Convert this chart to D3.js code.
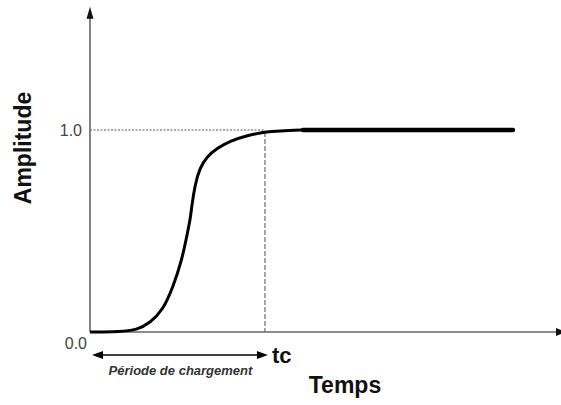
<!DOCTYPE html>
<html>
<head>
<meta charset="utf-8">
<script src="https://cdn.jsdelivr.net/npm/d3@7"></script>
<style>
  html, body { margin: 0; padding: 0; background: #fff; }
  svg { display: block; }
</style>
</head>
<body>
<svg id="chart" width="561" height="405"></svg>
<script>
// Charging curve: amplitude rises along an S-shape, then holds at 1.0
const times      = [0, 0.69, 1.07, 1.37, 1.67, 1.90, 2.10, 2.21, 2.29, 2.33, 2.40, 2.51, 2.67, 2.90, 3.20, 3.58, 3.96, 4.11, 4.57, 4.87];
const amplitudes = [0, 0.002, 0.01, 0.045, 0.109, 0.224, 0.356, 0.472, 0.554, 0.629, 0.728, 0.812, 0.868, 0.909, 0.946, 0.972, 0.989, 0.992, 0.998, 1.0];
const plateauTimes = [4.87, 9.67];
const plateauLevel = 1.0;
const tc = 4.0;
const tMax = 10.7;
const aMax = 1.61;
const yTickLabels = ["0.0", "1.0"];

const svg = d3.select("#chart");
const x = d3.scaleLinear().domain([0, tMax]).range([90, 558]);
const y = d3.scaleLinear().domain([0, 1]).range([332, 130]);

const axisColor = "#666";

// Dotted reference lines at amplitude 1.0 and at tc
svg.append("line")
  .attr("x1", x(0)).attr("x2", x(tc))
  .attr("y1", y(1)).attr("y2", y(1))
  .attr("stroke", "#555").attr("stroke-width", 1)
  .attr("stroke-dasharray", "2,1.5");
svg.append("line")
  .attr("x1", x(tc)).attr("x2", x(tc))
  .attr("y1", y(0.99)).attr("y2", y(0))
  .attr("stroke", "#777").attr("stroke-width", 1.3)
  .attr("stroke-dasharray", "5,2");

// Axes
svg.append("line")
  .attr("x1", x(0)).attr("x2", x(0))
  .attr("y1", y(0)).attr("y2", y(aMax) + 10)
  .attr("stroke", axisColor).attr("stroke-width", 1.6);
svg.append("path")
  .attr("d", `M${x(0)},${y(aMax)} L${x(0) - 3.5},${y(aMax) + 12} L${x(0) + 3.5},${y(aMax) + 12} Z`)
  .attr("fill", "#111");
svg.append("line")
  .attr("x1", x(0)).attr("x2", x(tMax) - 2)
  .attr("y1", y(0)).attr("y2", y(0))
  .attr("stroke", axisColor).attr("stroke-width", 1.6);
svg.append("path")
  .attr("d", `M${x(tMax) + 8},${y(0)} L${x(tMax) - 2},${y(0) - 4} L${x(tMax) - 2},${y(0) + 4} Z`)
  .attr("fill", "#111");

// Curve (B-spline through the sampled points for a smooth S-shape)
const line = d3.line()
  .x((d, i) => x(times[i]))
  .y((d, i) => y(amplitudes[i]))
  .curve(d3.curveBasis);
svg.append("path")
  .attr("d", line(times))
  .attr("fill", "none")
  .attr("stroke", "#000")
  .attr("stroke-width", 3);

svg.append("line")
  .attr("x1", x(plateauTimes[0])).attr("x2", x(plateauTimes[1]))
  .attr("y1", y(plateauLevel)).attr("y2", y(plateauLevel))
  .attr("stroke", "#000").attr("stroke-width", 4.5)
  .attr("stroke-linecap", "round");

// Tick labels
svg.append("text")
  .attr("x", x(0) - 8).attr("y", y(1) + 6)
  .attr("text-anchor", "end")
  .attr("font-family", "Liberation Sans, Arial, sans-serif")
  .attr("font-size", 16).attr("fill", "#444")
  .text(yTickLabels[1]);
svg.append("text")
  .attr("x", x(0) - 3).attr("y", y(0) + 17)
  .attr("text-anchor", "end")
  .attr("font-family", "Liberation Sans, Arial, sans-serif")
  .attr("font-size", 16).attr("fill", "#444")
  .text(yTickLabels[0]);

// Charging period double arrow
const arrowY = 355;
svg.append("line")
  .attr("x1", x(0) + 8).attr("x2", x(tc) - 6)
  .attr("y1", arrowY).attr("y2", arrowY)
  .attr("stroke", "#000").attr("stroke-width", 1.6);
svg.append("path")
  .attr("d", `M${x(0) + 2},${arrowY} L${x(0) + 13},${arrowY - 4} L${x(0) + 13},${arrowY + 4} Z`)
  .attr("fill", "#000");
svg.append("path")
  .attr("d", `M${x(tc) + 3},${arrowY} L${x(tc) - 8},${arrowY - 4} L${x(tc) - 8},${arrowY + 4} Z`)
  .attr("fill", "#000");

svg.append("text")
  .attr("x", (x(0) + x(tc)) / 2 + 3).attr("y", 375)
  .attr("text-anchor", "middle")
  .attr("font-family", "Liberation Sans, Arial, sans-serif")
  .attr("font-size", 13).attr("font-weight", "bold").attr("font-style", "italic")
  .attr("fill", "#333")
  .text("Période de chargement");

svg.append("text")
  .attr("x", x(tc) + 7).attr("y", 363)
  .attr("font-family", "Liberation Sans, Arial, sans-serif")
  .attr("font-size", 22).attr("font-weight", "bold")
  .attr("fill", "#111")
  .text("tc");

// Axis titles
svg.append("text")
  .attr("x", 345).attr("y", 393)
  .attr("text-anchor", "middle")
  .attr("font-family", "Liberation Sans, Arial, sans-serif")
  .attr("font-size", 23).attr("font-weight", "bold")
  .attr("fill", "#111")
  .text("Temps");

svg.append("text")
  .attr("transform", "translate(31,148) rotate(-90)")
  .attr("text-anchor", "middle")
  .attr("font-family", "Liberation Sans, Arial, sans-serif")
  .attr("font-size", 23).attr("font-weight", "bold")
  .attr("fill", "#111")
  .text("Amplitude");
</script>
</body>
</html>
